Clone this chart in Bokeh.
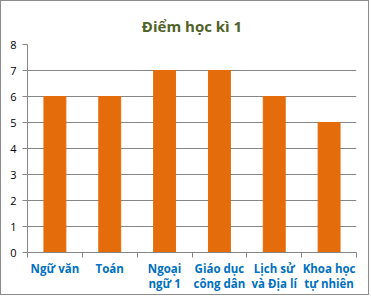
from bokeh.plotting import figure
from bokeh.models import FixedTicker, Range1d, ColumnDataSource
from bokeh.embed import file_html
from bokeh.resources import INLINE

title_text = "Điểm học kì 1"
categories = ["Ngữ văn", "Toán", "Ngoại\nngữ 1", "Giáo dục\ncông dân", "Lịch sử\nvà Địa lí", "Khoa học\ntự nhiên"]
scores = [6, 6, 7, 7, 6, 5]
y_ticks = [0, 1, 2, 3, 4, 5, 6, 7, 8]

xs = [i + 0.5 for i in range(len(categories))]
src = ColumnDataSource(dict(x=xs, top=scores))

p = figure(width=369, height=295, output_backend="svg", toolbar_location=None,
           x_range=Range1d(0, len(categories)), y_range=Range1d(0, 8),
           min_border_left=26, min_border_right=14, min_border_top=43, min_border_bottom=44,
           background_fill_color="white", border_fill_color="white")
p.styles = {"border": "1px solid #8c8c8c"}
p.outline_line_color = None

p.vbar(x="x", top="top", width=0.4, source=src, color="#E46C0A")

p.title.text = title_text
p.title.align = "center"
p.title.offset = -7
p.title.text_font = "Open Sans"
p.title.text_font_size = "15px"
p.title.text_font_style = "bold"
p.title.text_color = "#4F6228"
p.title.standoff = 17

xa = p.xaxis[0]
xa.ticker = FixedTicker(ticks=xs, minor_ticks=list(range(len(categories) + 1)))
xa.major_label_overrides = {x: c for x, c in zip(xs, categories)}
xa.major_tick_out = 0
xa.major_tick_in = 0
xa.minor_tick_out = 5
xa.minor_tick_in = 0
xa.minor_tick_line_color = "#868686"
xa.axis_line_color = "#868686"
xa.major_label_text_font = "Open Sans"
xa.major_label_text_font_size = "11.5px"
xa.major_label_text_font_style = "bold"
xa.major_label_text_color = "#0070C0"
xa.major_label_standoff = 3
xa.major_label_text_line_height = 1.05

ya = p.yaxis[0]
ya.ticker = FixedTicker(ticks=y_ticks)
ya.minor_tick_line_color = None
ya.major_tick_out = 5
ya.major_tick_in = 0
ya.major_tick_line_color = "#868686"
ya.axis_line_color = "#868686"
ya.major_label_text_font = "Open Sans"
ya.major_label_text_font_size = "11px"
ya.major_label_text_color = "#000000"
ya.major_label_standoff = 6

p.xgrid.grid_line_color = None
p.ygrid.grid_line_color = "#868686"
p.ygrid.ticker = FixedTicker(ticks=y_ticks)

open("out.html", "w").write(file_html(p, INLINE))
